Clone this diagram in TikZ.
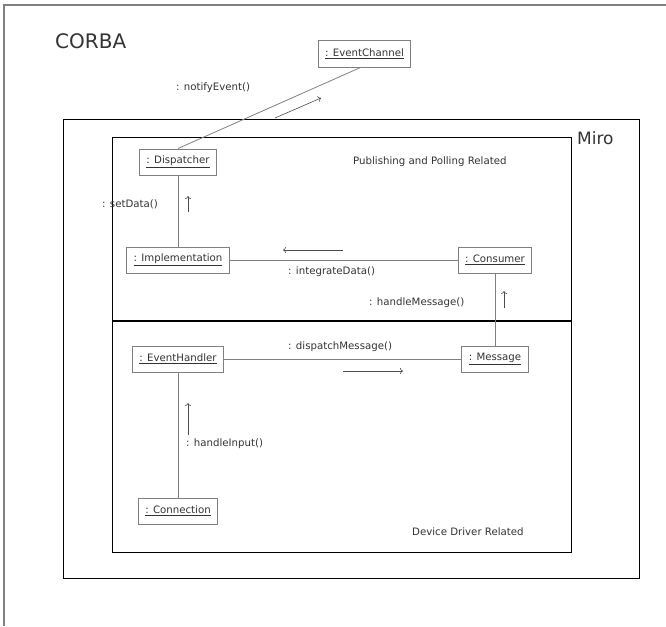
\documentclass[tikz,border=0pt]{standalone}
\usepackage{fontspec}
\usetikzlibrary{arrows.meta}
\setmainfont{DejaVu Sans}
\newcommand{\sm}{\fontsize{10.2}{12}\selectfont}
\newcommand{\objname}[1]{\underline{#1}}

\begin{document}
\begin{tikzpicture}[x=1pt,y=-1pt,
   obj/.style={draw=gray,line width=1pt,fill=white,text=black!80,
     minimum height=26pt,inner xsep=7pt,font=\sm},
   lbl/.style={anchor=west,inner sep=0pt,text=black!80,font=\sm},
   link/.style={draw=gray,line width=0.8pt},
   msg/.style={-{To[length=3pt,width=6pt]},draw=black!70,line width=0.6pt}]
   \useasboundingbox (0,0) rectangle (666,626);
   % frames
   \draw[gray,line width=1.5pt] (4,626) |- (666,5);
   \draw[line width=1pt] (63,119) rectangle (639,578);
   \draw[line width=1pt] (112,137) rectangle (571,552);
   \draw[line width=2pt] (112,321) -- (571,321);
   \node[lbl,font=\fontsize{20}{24}\selectfont] (corba) at (55,41) {CORBA};
   \node[lbl,font=\fontsize{17}{20}\selectfont] (miro) at (577,138) {Miro};
   \node[lbl] (pub) at (353,162) {Publishing and Polling Related};
   \node[lbl] (dev) at (412,532) {Device Driver Related};
   % objects
   \node[obj] (chan) at (364.5,54) {\objname{: EventChannel}};
   \node[obj] (disp) at (178,162) {\objname{: Dispatcher}};
   \node[obj] (impl) at (178,260) {\objname{: Implementation}};
   \node[obj] (cons) at (495,260) {\objname{: Consumer}};
   \node[obj] (hand) at (178,359) {\objname{: EventHandler}};
   \node[obj] (mess) at (495,359) {\objname{: Message}};
   \node[obj] (conn) at (178,511) {\objname{: Connection}};
   % links
   \draw[link] (disp.north) -- ([xshift=-4pt]chan.south);
   \draw[link] (disp) -- (impl);
   \draw[link] (impl) -- (cons);
   \draw[link] (cons) -- (mess);
   \draw[link] (hand) -- (mess);
   \draw[link] (hand) -- (conn);
   % messages
   \draw[msg] (275,118) -- (321,98);
   \node[lbl] (m1) at (176,88) {: notifyEvent()};
   \draw[msg] (188,212) -- (188,196);
   \node[lbl] (m2) at (102,204) {: setData()};
   \draw[msg] (343,250) -- (283,250);
   \node[lbl] (m3) at (288,272) {: integrateData()};
   \draw[msg] (504,308) -- (504,291);
   \node[lbl] (m4) at (369,303) {: handleMessage()};
   \draw[msg] (343,371) -- (403,371);
   \node[lbl] (m5) at (288,347) {: dispatchMessage()};
   \draw[msg] (188,435) -- (188,403);
   \node[lbl] (m6) at (186,444) {: handleInput()};
\end{tikzpicture}
\end{document}
